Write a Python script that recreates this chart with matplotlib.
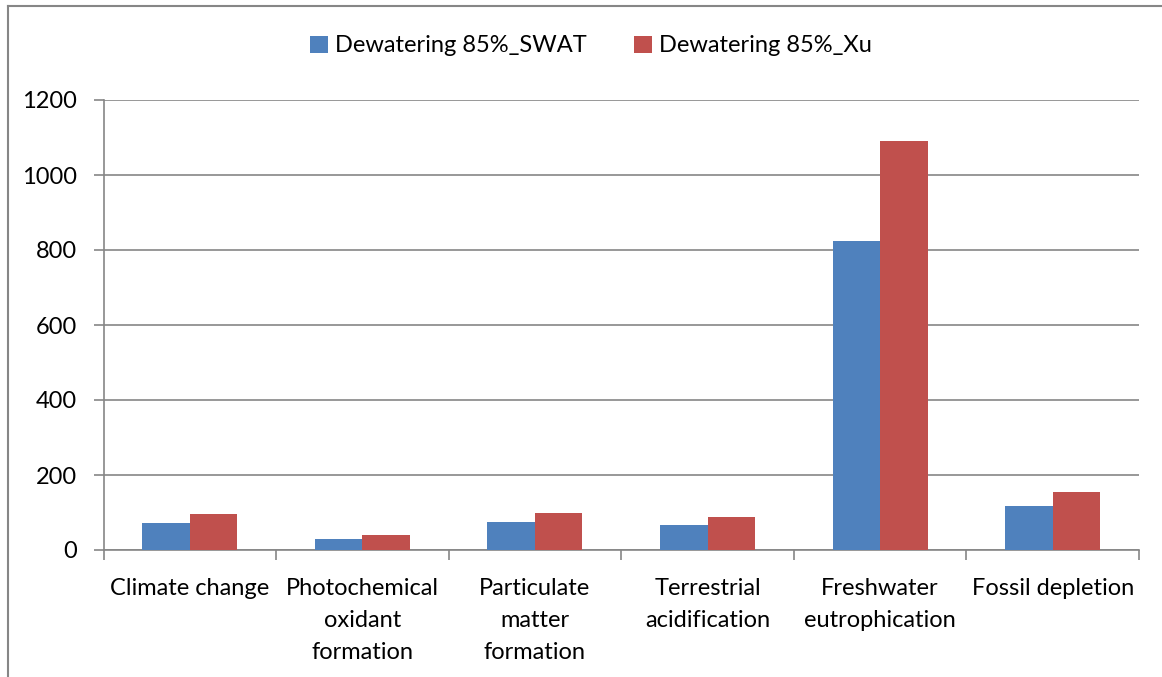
import matplotlib
matplotlib.use("Agg")
import matplotlib.pyplot as plt
import numpy as np
from matplotlib.lines import Line2D

categories = ["Climate change", "Photochemical\noxidant\nformation",
              "Particulate\nmatter\nformation", "Terrestrial\nacidification",
              "Freshwater\neutrophication", "Fossil depletion"]
swat = [72, 29, 75, 66, 823, 118]
xu = [96, 40, 100, 88, 1090, 156]
series_names = ["Dewatering 85%_SWAT", "Dewatering 85%_Xu"]
yticks = [0, 200, 400, 600, 800, 1000, 1200]

blue = "#4F81BD"
red = "#C0504D"
grey = "#868686"

plt.rcParams["font.family"] = ["Lato", "DejaVu Sans"]
fs = 17

W, H = 1162, 677
fig = plt.figure(figsize=(W / 100, H / 100), dpi=100)

# outer chart frame (top and left edges visible)
fig.add_artist(Line2D([7.5 / W, 1.0], [1 - 5.5 / H, 1 - 5.5 / H], color=grey,
                      lw=1.5, transform=fig.transFigure))
fig.add_artist(Line2D([7.5 / W, 7.5 / W], [0, 1 - 5.5 / H], color=grey,
                      lw=1.5, transform=fig.transFigure))

left, right, top, bottom = 103.5, 1139, 100, 550
ax = fig.add_axes([left / W, 1 - bottom / H, (right - left) / W, (bottom - top) / H])

x = np.arange(len(categories))
bw = 0.275
ax.bar(x - bw / 2, swat, bw, color=blue, label=series_names[0], zorder=3)
ax.bar(x + bw / 2, xu, bw, color=red, label=series_names[1], zorder=3)

ax.set_xlim(-0.5, len(categories) - 0.5)
ax.set_ylim(0, 1200)
ax.set_yticks(yticks)
ax.set_yticklabels([str(v) for v in yticks], fontsize=fs)
ax.yaxis.grid(True, color=grey, lw=1.2, zorder=0)
ax.set_axisbelow(True)

ax.set_xticks(x)
ax.set_xticklabels(categories, fontsize=fs, linespacing=1.65)
ax.tick_params(axis="x", length=0, pad=20)
ax.set_xticks(np.arange(len(categories) + 1) - 0.5, minor=True)
ax.tick_params(axis="x", which="minor", length=7, color=grey, width=1.2)
ax.tick_params(axis="y", length=7, color=grey, width=1.2, pad=12)

for s in ["top", "right"]:
    ax.spines[s].set_visible(False)
for s in ["left", "bottom"]:
    ax.spines[s].set_color(grey)
    ax.spines[s].set_linewidth(1.2)

fig.legend(loc="center", bbox_to_anchor=(591 / W, 1 - 46 / H), ncol=2,
           frameon=False, fontsize=fs, handlelength=0.75, handleheight=0.75,
           handletextpad=0.3, columnspacing=2.0)

fig.savefig("out.png", dpi=100)
